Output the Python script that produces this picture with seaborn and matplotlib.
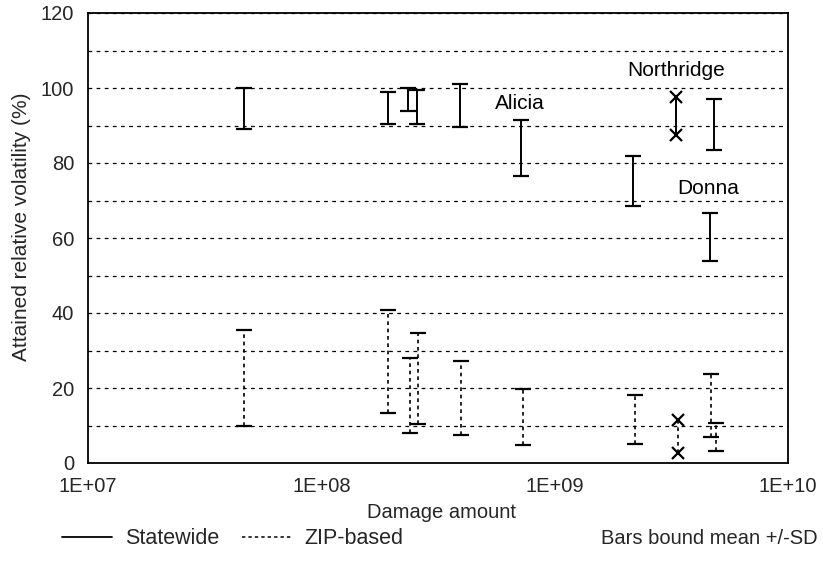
import numpy as np
import pandas as pd
import matplotlib
matplotlib.use("Agg")
import matplotlib.pyplot as plt
from matplotlib.lines import Line2D
from matplotlib.ticker import MultipleLocator, FixedLocator, NullLocator
import seaborn as sns

sns.set_style("white")
plt.rcParams['font.family'] = ['Liberation Sans', 'DejaVu Sans']

# ---- data ----
# Statewide bars: damage, lower bound (mean-SD), upper bound (mean+SD)
state_damage = [4.65e7, 1.94e8, 2.36e8, 2.58e8, 3.93e8, 7.2e8, 2.17e9, 4.84e9, 4.64e9]
state_low = [89.1, 90.3, 94.0, 90.4, 89.7, 76.5, 68.5, 83.6, 53.8]
state_high = [100.0, 98.9, 100.0, 99.6, 101.0, 91.5, 82.0, 97.0, 66.6]

# ZIP-based bars
zip_damage = [4.65e7, 1.94e8, 2.41e8, 2.60e8, 3.97e8, 7.3e8, 2.2e9, 4.7e9, 4.9e9]
zip_low = [9.9, 13.3, 7.9, 10.3, 7.5, 4.8, 5.2, 7.0, 3.2]
zip_high = [35.5, 40.8, 28.0, 34.6, 27.1, 19.7, 18.2, 23.8, 10.7]

# Northridge (bounds marked with x)
north_state_damage = 3.31e9
north_state = [87.4, 97.6]
north_zip_damage = 3.37e9
north_zip = [2.7, 11.6]

# event labels
event_names = ["Northridge", "Alicia", "Donna"]
event_x = [3.3e9, 7.1e8, 4.55e9]
event_y = [104.8, 95.8, 73.3]

x_ticks = [1e7, 1e8, 1e9, 1e10]
x_ticklabels = ["1E+07", "1E+08", "1E+09", "1E+10"]
y_ticks = [0, 20, 40, 60, 80, 100, 120]

# ---- figure ----
fig = plt.figure(figsize=(8.23, 5.67), dpi=100)
ax = fig.add_axes([88/823, 1-463/567, 700/823, 450/567])

ax.set_xscale("log")
ax.set_xlim(1e7, 1e10)
ax.set_ylim(0, 120)

# grid lines every 10
ax.yaxis.set_major_locator(FixedLocator(y_ticks))
ax.yaxis.set_minor_locator(MultipleLocator(10))
ax.grid(False)
ax.grid(True, which="both", axis="y", color="black", linestyle=(0, (3, 3.5)), linewidth=0.9)
ax.set_axisbelow(True)

def bars(x, lo, hi, dotted):
    lo = np.asarray(lo); hi = np.asarray(hi)
    mid = (lo + hi) / 2
    err = (hi - lo) / 2
    res = ax.errorbar(x, mid, yerr=err, fmt="none", ecolor="black",
                      elinewidth=1.4, capsize=5.5, capthick=1.6, zorder=3)
    if dotted:
        res[2][0].set_linestyle((0, (2.2, 2.2)))
        res[2][0].set_linewidth(1.2)

bars(state_damage, state_low, state_high, False)
bars(zip_damage, zip_low, zip_high, True)

ax.plot([north_state_damage]*2, north_state, color="black", lw=1.4,
        marker="x", ms=9, mew=1.6, zorder=3)
ax.plot([north_zip_damage]*2, north_zip, color="black", lw=1.2,
        linestyle=(0, (2.2, 2.2)), marker="x", ms=9, mew=1.6, zorder=3)

for name, xx, yy in zip(event_names, event_x, event_y):
    ax.text(xx, yy, name, ha="center", va="center", fontsize=15, color="black")

ax.xaxis.set_major_locator(FixedLocator(x_ticks))
ax.xaxis.set_minor_locator(NullLocator())
ax.set_xticklabels(x_ticklabels)
ax.tick_params(axis="x", which="major", direction="in", length=3, width=1, pad=10, labelsize=14.5)
ax.tick_params(axis="y", which="both", length=0, pad=10, labelsize=14.5)
ax.tick_params(axis="y", which="minor", length=0)

for s in ax.spines.values():
    s.set_color("black")
    s.set_linewidth(1.3)

fig.text(22/823, 1-227/567, "Attained relative volatility (%)", rotation=90,
         ha="center", va="center", fontsize=15)
fig.text(442/823, 1-512/567, "Damage amount", ha="center", va="center", fontsize=14.5)

handles = [Line2D([], [], color="black", lw=1.3),
           Line2D([], [], color="black", lw=1.1, linestyle=(0, (2.2, 2.0)))]
fig.legend(handles, ["Statewide", "ZIP-based"], loc="center left",
           bbox_to_anchor=(62/823, 1-539/567), ncol=2, frameon=False,
           fontsize=15.5, handlelength=2.32, handletextpad=0.6, columnspacing=1.05,
           borderpad=0, borderaxespad=0)
fig.text(818/823, 1-539/567, "Bars bound mean +/-SD", ha="right", va="center", fontsize=14.5)

fig.savefig("out.png", dpi=100)
